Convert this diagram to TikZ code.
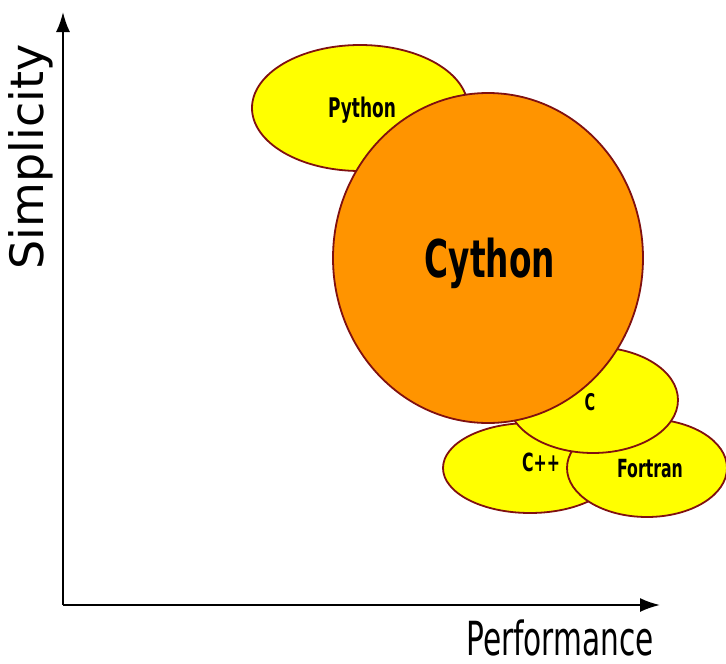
\documentclass[tikz,border=0pt]{standalone}
\usepackage{fontspec}
\setmainfont{DejaVu Sans}
\newfontfamily\narrowfont[FakeStretch=0.63]{DejaVu Sans}
\usetikzlibrary{arrows.meta,shapes.geometric}
\definecolor{rimred}{RGB}{128,16,16}
\definecolor{langyellow}{RGB}{255,255,0}
\definecolor{cyorange}{RGB}{255,148,0}
\tikzset{
	axis/.style={line width=2pt, -{Latex[length=20pt,width=14pt]}},
	blob/.style={ellipse, draw=rimred, line width=1.8pt, fill=langyellow, inner sep=0pt},
	tag/.style={anchor=base, inner sep=0pt, font=\narrowfont\bfseries}
}
\begin{document}
\begin{tikzpicture}[x=1pt, y=-1pt]
	\useasboundingbox (0,0) rectangle (726,664);
	\begin{scope}
	\coordinate (origin) at (63,605);
	\coordinate (ytip) at (63,12);
	\coordinate (xtip) at (660,605);
	\draw[axis] (origin) -- (ytip);
	\draw[axis] (origin) -- (xtip);
	\node (simplicity) at (43,157) [anchor=base, rotate=90, inner sep=0pt, font=\fontsize{46}{50}\selectfont] {Simplicity};
	\node (performance) at (560,655) [anchor=base, inner sep=0pt, font=\narrowfont\fontsize{47}{50}\selectfont] {Performance};
	\end{scope}
	\begin{scope}
	\node[blob, minimum width=216pt, minimum height=126pt] (python) at (360,108) {};
	\node[blob, minimum width=174pt, minimum height=90pt] (cpp) at (530,468) {};
	\node[blob, minimum width=160pt, minimum height=98pt] (fortran) at (647,468) {};
	\node[blob, minimum width=170pt, minimum height=106pt] (c) at (593,400) {};
	\node[blob, fill=cyorange, minimum width=310pt, minimum height=330pt] (cython) at (488,258) {};
	\node[tag, font=\narrowfont\bfseries\fontsize{27}{30}\selectfont] (python-label) at (362,117) {Python};
	\node[tag, font=\narrowfont\bfseries\fontsize{52}{56}\selectfont] (cython-label) at (490,277) {Cython};
	\node[tag, font=\narrowfont\bfseries\fontsize{23}{26}\selectfont] (c-label) at (590,410) {C};
	\node[tag, font=\narrowfont\bfseries\fontsize{25}{28}\selectfont] (cpp-label) at (541,471) {C++};
	\node[tag, font=\narrowfont\bfseries\fontsize{25}{28}\selectfont] (fortran-label) at (650,477) {Fortran};
	\end{scope}
\end{tikzpicture}
\end{document}
